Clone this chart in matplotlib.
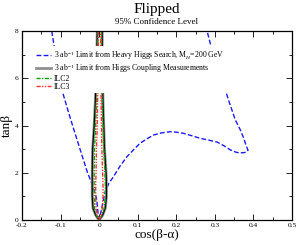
import numpy as np
import matplotlib
matplotlib.use("Agg")
import matplotlib.pyplot as plt
from matplotlib.ticker import MultipleLocator

plt.rcParams['font.family'] = ['Liberation Serif', 'DejaVu Serif']
plt.rcParams['mathtext.fontset'] = 'custom'
plt.rcParams['mathtext.rm'] = 'Liberation Serif'
plt.rcParams['mathtext.it'] = 'Liberation Serif:italic'

## heavy Higgs search limit (cos(b-a), tan b)
heavy_cba = [-0.123, -0.100, -0.075, -0.049, -0.030, -0.019, -0.010, -0.006, -0.002, 0.0,
             0.004, 0.008, 0.011, 0.016, 0.025, 0.037, 0.054, 0.072, 0.090, 0.106,
             0.125, 0.141, 0.162, 0.184, 0.200, 0.219, 0.240, 0.262, 0.285, 0.306,
             0.325, 0.340, 0.355, 0.366, 0.378, 0.386, 0.380, 0.375, 0.365, 0.353,
             0.335, 0.319, 0.300, 0.288, 0.280]
heavy_tb = [8.0, 5.7, 4.32, 2.97, 2.0, 1.55, 1.1, 0.85, 0.14, 0.05,
            0.3, 0.6, 0.85, 1.2, 1.55, 1.83, 2.28, 2.68, 2.99, 3.25,
            3.45, 3.6, 3.69, 3.74, 3.72, 3.67, 3.57, 3.46, 3.38, 3.30,
            3.13, 2.97, 2.87, 2.84, 2.86, 2.95, 3.2, 3.46, 3.85, 4.24,
            5.1, 5.93, 6.9, 7.48, 8.0]

## coupling measurement contours, left/right edge at each tan b
tb = [0.0, 0.2, 0.5, 1.0, 1.5, 2.0, 3.0, 4.0, 5.0, 6.0, 7.0, 8.0]
hl_left = [0.0, -0.009, -0.016, -0.018, -0.018, -0.018, -0.017, -0.013, -0.010, -0.008, -0.006, -0.005]
hl_right = [0.0, 0.009, 0.016, 0.019, 0.019, 0.018, 0.014, 0.012, 0.010, 0.009, 0.008, 0.008]
ilc2_left = [0.0, -0.007, -0.012, -0.013, -0.013, -0.013, -0.012, -0.009, -0.007, -0.005, -0.004, -0.003]
ilc2_right = [0.0, 0.007, 0.013, 0.016, 0.016, 0.015, 0.012, 0.010, 0.008, 0.007, 0.006, 0.006]
ilc3_left = [0.0, -0.005, -0.008, -0.009, -0.009, -0.008, -0.007, -0.005, -0.004, -0.003, -0.002, -0.002]
ilc3_right = [0.0, 0.005, 0.008, 0.010, 0.010, 0.009, 0.007, 0.006, 0.005, 0.005, 0.004, 0.004]


def loop(left, right):
    x = list(left[::-1]) + list(right[1:])
    y = list(tb[::-1]) + list(tb[1:])
    return np.array(x), np.array(y)


fig = plt.figure(figsize=(2.99, 2.45), dpi=100)
ax = fig.add_axes([0.0736, 0.102, 0.903, 0.771])

ax.plot(heavy_cba, heavy_tb, color='#1a1aff', lw=1.0, dashes=(3.5, 1.6),
        label=r'3 ab$^{-1}$ Limit from Heavy Higgs Search, M$_{H}$=200 GeV')

x, y = loop(hl_left, hl_right)
ax.plot(x, y, color='#909090', lw=2.0,
        label=r'3 ab$^{-1}$ Limit from Higgs Coupling Measurements')
ax.plot(x, y, color='black', lw=0.8)

x, y = loop(ilc2_left, ilc2_right)
ax.plot(x, y, color='#10a010', lw=1.0, dashes=(3, 1, 1, 1), label='ILC2')

x, y = loop(ilc3_left, ilc3_right)
ax.plot(x, y, color='#ff3030', lw=1.0, dashes=(3, 1, 1, 1, 1, 1), label='ILC3')

ax.set_xlim(-0.2, 0.5)
ax.set_ylim(0, 8)
ax.xaxis.set_minor_locator(MultipleLocator(0.05))
ax.yaxis.set_minor_locator(MultipleLocator(1))
ax.set_xticks([-0.2, -0.1, 0, 0.1, 0.2, 0.3, 0.4, 0.5])
ax.set_xticklabels(['-0.2', '-0.1', '0', '0.1', '0.2', '0.3', '0.4', '0.5'])
ax.set_yticks([0, 2, 4, 6, 8])
ax.set_yticklabels(['0', '2', '4', '6', '8'])
ax.tick_params(which='both', direction='in', top=True, right=True, labelsize=5.3)
ax.tick_params(axis='x', pad=2.2)
ax.tick_params(axis='y', pad=2.8)
ax.tick_params(which='major', length=4, width=0.6)
ax.tick_params(which='minor', length=2, width=0.6)
for s in ax.spines.values():
    s.set_linewidth(0.9)

ax.set_xlabel('cos(β-α)', fontsize=9.5, labelpad=1)
ax.set_ylabel('tanβ', fontsize=9.5, labelpad=1)

fig.text(0.525, 0.948, 'Flipped', ha='center', va='baseline', fontsize=11)
fig.text(0.525, 0.903, '95% Confidence Level', ha='center', va='baseline', fontsize=6.5)

leg = ax.legend(loc='upper left', bbox_to_anchor=(0.03, 0.94), fontsize=5.6,
                handlelength=1.9, handletextpad=0.4, labelspacing=0.0,
                borderpad=0.3, frameon=True, fancybox=False)
leg.get_frame().set_facecolor('white')
leg.get_frame().set_edgecolor('none')
leg.get_frame().set_alpha(1.0)

fig.savefig('out.png', dpi=100)
